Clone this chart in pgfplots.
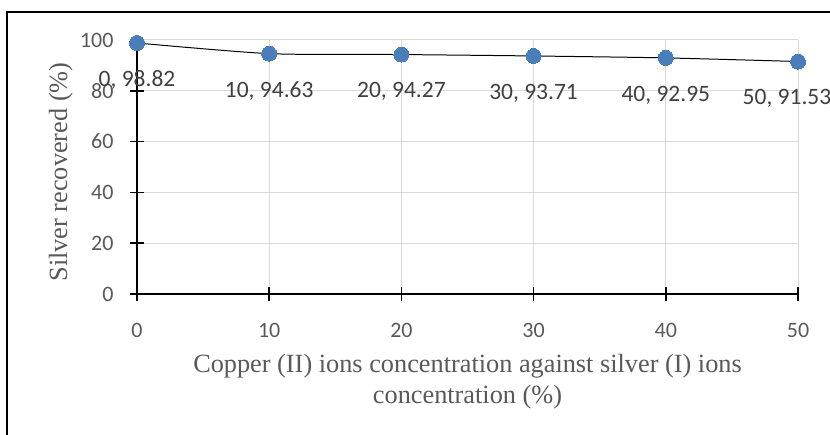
\documentclass[border=0pt]{standalone}
\usepackage{pgfplots}
\pgfplotsset{compat=1.18}
\usepackage{fontspec}
\setmainfont{Liberation Serif}
\newfontfamily\calibri{Carlito}
\definecolor{gridc}{HTML}{D9D9D9}
\definecolor{txt}{HTML}{595959}
\definecolor{lbl}{HTML}{404040}
\definecolor{mk}{HTML}{4A7EBB}
\pgfplotstableread[col sep=comma]{
x,y,lab
0,98.82,{0, 98.82}
10,94.63,{10, 94.63}
20,94.27,{20, 94.27}
30,93.71,{30, 93.71}
40,92.95,{40, 92.95}
50,91.53,{50, 91.53}
}\datatab
\pgfplotstableread[col sep=comma]{
x,y,lab
0,98.82,{0, 98.82}
10,94.63,{10, 94.63}
20,94.27,{20, 94.27}
30,93.71,{30, 93.71}
40,92.95,{40, 92.95}
}\firsttab
\pgfplotstableread[col sep=comma]{
x,y,lab
50,91.53,{50, 91.53}
}\lasttab
\begin{document}
\begin{tikzpicture}[x=1pt,y=1pt]
\useasboundingbox (0,0) rectangle (830,434);
\draw[line width=1.5pt, black] (7,-20) -- (7,422) -- (860,422);
\begin{axis}[
  at={(137pt,140pt)}, anchor=south west,
  scale only axis, width=661pt, height=254pt,
  xmin=0, xmax=50, ymin=0, ymax=100,
  xtick={0,10,...,50}, ytick={0,20,...,100},
  axis lines=left, axis line style={-, line width=1.5pt, black},
  tick style={line width=1.5pt, black}, major tick length=14pt, tick align=center,
  grid=major, grid style={gridc, line width=1pt},
  ticklabel style={font=\calibri\fontsize{22}{26}\selectfont, text=txt},
  /pgf/number format/assume math mode=true,
  xticklabel shift=19pt, yticklabel shift=13pt,
  xlabel={Copper (II) ions concentration against silver (I) ions\\concentration (\%)},
  xlabel style={at={(axis description cs:0.5,-0.344)}, anchor=center, align=center,
    font=\fontsize{26.3}{31}\selectfont, text=txt},
  ylabel={Silver recovered (\%)},
  ylabel style={at={(axis description cs:-0.1154,0.48)}, anchor=center,
    font=\fontsize{26.3}{31}\selectfont, text=txt},
  clip=false,
]
\addplot[black, line width=1pt, smooth, tension=0.4, no marks] table[x=x, y=y] {\datatab};
\addplot[only marks, mark=*, mark size=7.5pt,
  mark options={fill=mk, draw=mk, line width=0pt},
  nodes near coords, point meta=explicit symbolic,
  nodes near coords style={font=\calibri\fontsize{23.5}{27}\selectfont, text=lbl, anchor=center, yshift=-37pt}]
  table[x=x, y=y, meta=lab] {\firsttab};
\addplot[only marks, mark=*, mark size=7.5pt,
  mark options={fill=mk, draw=mk, line width=0pt},
  nodes near coords, point meta=explicit symbolic,
  nodes near coords style={font=\calibri\fontsize{23.5}{27}\selectfont, text=lbl, anchor=center, yshift=-37pt, xshift=-11pt}]
  table[x=x, y=y, meta=lab] {\lasttab};
\end{axis}
\end{tikzpicture}
\end{document}
